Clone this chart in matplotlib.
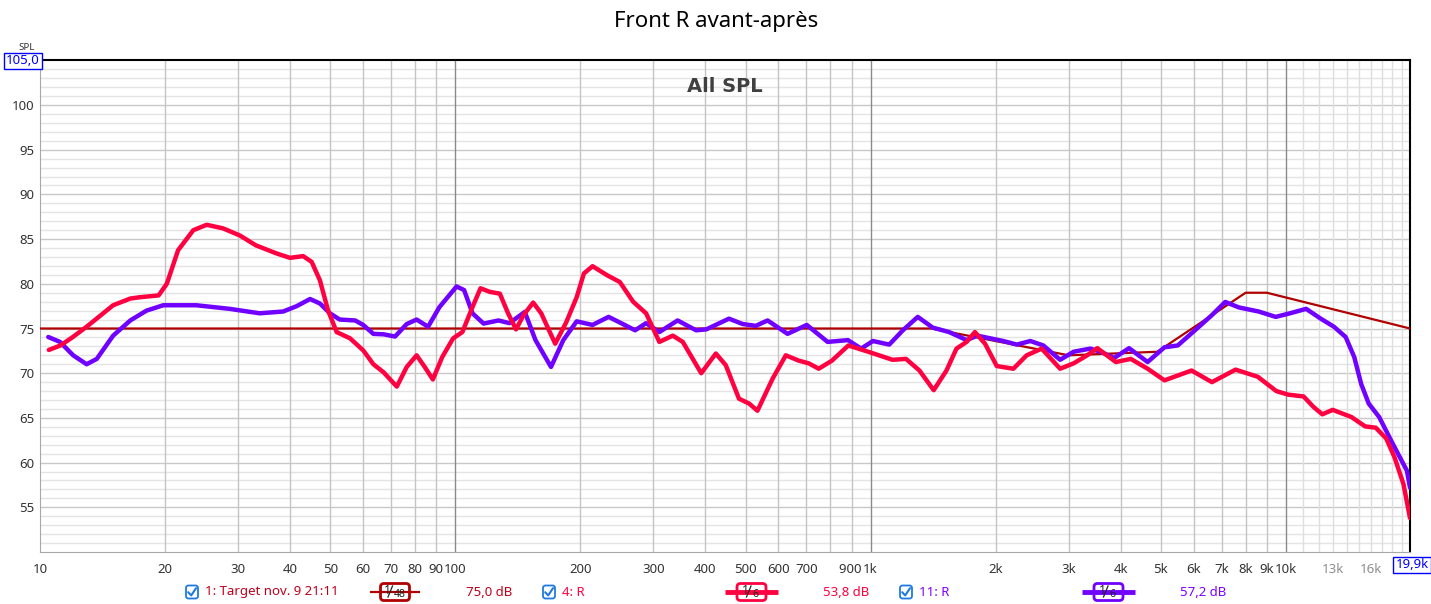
import numpy as np
import matplotlib
matplotlib.use('Agg')
import matplotlib.pyplot as plt
from matplotlib.patches import FancyBboxPatch

plt.rcParams['font.family'] = ['Noto Sans', 'DejaVu Sans']

# Target curve (breakpoints)
target_freq = [10, 1400, 3000, 4900, 8000, 9000, 19900]
target_db = [75.0, 75.0, 72.0, 72.4, 79.0, 79.0, 75.0]

# 4: R (red)
red_freq = [10.5, 11.2, 12.0, 12.95, 15.0, 16.5, 17.4, 19.3, 20.2, 21.5, 23.4, 25.2, 27.6,
            30.3, 33.1, 37.1, 40.0, 43.0, 45.1, 47.2, 49.4, 51.8, 55.8, 60.0, 63.5, 67.2,
            72.3, 76.4, 80.7, 84.4, 88.3, 93.0, 98.8, 104, 110, 115, 121, 128, 134, 140,
            146, 154, 161, 174, 185, 196, 204, 214, 232, 249, 268, 288, 310, 334, 353,
            391, 424, 448, 482, 510, 534, 581, 625, 672, 710, 750, 807, 884, 987, 1129,
            1217, 1311, 1419, 1523, 1610, 1703, 1783, 1886, 2013, 2207, 2376, 2582, 2860,
            3082, 3322, 3515, 3894, 4231, 4646, 5101, 5927, 6636, 7565, 8557, 9483, 10130,
            11030, 11670, 12240, 12960, 14380, 15520, 16460, 17440, 18260, 19190, 19900]
red_db = [72.6, 73.1, 74.05, 75.2, 77.6, 78.35, 78.5, 78.7, 80.0, 83.75, 86.0, 86.6, 86.2,
          85.4, 84.3, 83.4, 82.9, 83.1, 82.45, 80.4, 77.0, 74.6, 73.9, 72.56, 71.0, 70.1,
          68.5, 70.7, 72.0, 70.7, 69.3, 71.8, 73.9, 74.6, 77.4, 79.5, 79.1, 78.9, 76.7, 74.9,
          76.5, 77.9, 76.7, 73.3, 75.7, 78.5, 81.15, 81.97, 80.96, 80.2, 78.0, 76.7, 73.5, 74.2, 73.5,
          70.0, 72.2, 70.9, 67.15, 66.6, 65.8, 69.4, 72.0, 71.4, 71.1, 70.5, 71.4, 73.1, 72.4, 71.5,
          71.6, 70.3, 68.1, 70.3, 72.75, 73.5, 74.6, 73.3, 70.8, 70.5, 72.0, 72.75, 70.5,
          71.1, 72.0, 72.8, 71.25, 71.6, 70.5, 69.2, 70.3, 69.0, 70.4, 69.6, 68.0, 67.6,
          67.4, 66.2, 65.4, 65.9, 65.1, 64.05, 63.9, 62.7, 60.6, 57.6, 53.8]

# 11: R (purple)
purple_freq = [10.47, 11.17, 12.02, 12.95, 13.7, 15.0, 16.5, 18.05, 19.8, 23.8, 28.6, 33.8,
               38.5, 41.5, 44.7, 47.2, 49.9, 52.7, 57.4, 60.0, 63.5, 67.2, 71.6, 76.4, 80.7,
               86, 91.6, 100.7, 105, 110, 117, 127, 135, 147, 156, 170, 182, 196, 214, 234,
               252, 271, 288, 310, 343, 380, 402, 456, 492, 529, 565, 631, 702, 788, 882, 949,
               1013, 1109, 1196, 1299, 1411, 1546, 1703, 1807, 2087, 2250, 2425, 2606, 2860,
               3082, 3381, 3575, 3859, 4191, 4646, 5101, 5490, 6040, 6636, 7145, 7715, 8600,
               9450, 10230, 11190, 12130, 13050, 13930, 14610, 15180, 15830, 16770, 18090,
               19560, 19900]
purple_db = [74.05, 73.5, 72.0, 71.0, 71.6, 74.2, 75.9, 77.0, 77.6, 77.6, 77.2, 76.7,
             76.9, 77.5, 78.3, 77.8, 76.7, 76.0, 75.9, 75.4, 74.4, 74.35, 74.1, 75.5, 76.0,
             75.2, 77.4, 79.7, 79.3, 76.7, 75.55, 75.9, 75.6, 76.85, 73.7, 70.7, 73.7, 75.8, 75.4, 76.3,
             75.55, 74.8, 75.6, 74.6, 75.9, 74.8, 74.9, 76.1, 75.5, 75.3, 75.9, 74.4, 75.4, 73.5, 73.7, 72.75,
             73.6, 73.2, 74.8, 76.3, 75.1, 74.6, 73.7, 74.2, 73.6, 73.2, 73.6, 73.1, 71.5,
             72.4, 72.75, 72.4, 71.7, 72.8, 71.25, 72.9, 73.1, 74.8, 76.5, 77.97, 77.35, 76.9,
             76.3, 76.7, 77.2, 76.1, 75.2, 74.05, 71.8, 68.8, 66.6, 65.1, 62.1,
             59.1, 57.2]

x_ticks = [10, 20, 30, 40, 50, 60, 70, 80, 90, 100, 200, 300, 400, 500, 600, 700, 900, 1000,
           2000, 3000, 4000, 5000, 6000, 7000, 8000, 9000, 10000, 13000, 16000]
x_labels = ['10', '20', '30', '40', '50', '60', '70', '80', '90', '100', '200', '300', '400',
            '500', '600', '700', '900 ', '1k', '2k', '3k', '4k', '5k', '6k', '7k', '8k', '9k',
            '10k', '13k', '16k']

W, H = 1431, 604
fig = plt.figure(figsize=(W / 100, H / 100), dpi=100)
L, R, T, B = 40, 1410, 60.3, 552
ax = fig.add_axes([L / W, 1 - B / H, (R - L) / W, (B - T) / H])
ax.set_xscale('log')
ax.set_xlim(10, 19900)
ax.set_ylim(50, 105)

# grid
for v in range(51, 105):
    ax.axhline(v, color='#c8c8c8' if v % 5 == 0 else '#e4e4e4', lw=1, zorder=0)
for dec in [10, 100, 1000]:
    for m in range(2, 10):
        ax.axvline(dec * m, color='#c4c4c4', lw=1, zorder=0)
for d in [100, 1000, 10000]:
    ax.axvline(d, color='#8a8a8a', lw=1, zorder=0)
for k in range(11, 20):
    ax.axvline(k * 1000, color='#dedede', lw=1, zorder=0)

ax.plot(target_freq, target_db, color='#b00000', lw=1.6, zorder=3)
ax.plot(purple_freq, purple_db, color='#7000ff', lw=3.2, solid_joinstyle='round',
        solid_capstyle='round', zorder=4)
ax.plot(red_freq, red_db, color='#ff0040', lw=3.2, solid_joinstyle='round',
        solid_capstyle='round', zorder=5)

ax.set_yticks(range(55, 101, 5))
ax.set_yticklabels([str(v) for v in range(55, 101, 5)], fontsize=9.5, color='#333333')
ax.set_xticks(x_ticks)
ax.set_xticklabels(x_labels, fontsize=9.5, color='#333333')
for lab, f in zip(ax.get_xticklabels(), x_ticks):
    if f in (13000, 16000):
        lab.set_color('#8c8c8c')
ax.minorticks_off()
ax.tick_params(length=0, pad=8)
ax.tick_params(axis='y', pad=4)
for s in ['left', 'bottom']:
    ax.spines[s].set_color('#a8a8a8')
for s in ['top', 'right']:
    ax.spines[s].set_color('black')
    ax.spines[s].set_linewidth(1.5)

ax.text(0.5, 0.967, 'All SPL', transform=ax.transAxes, ha='center', va='top',
        fontsize=14, fontweight='bold', color='#404040', family=['DejaVu Sans'])

# overlay in pixel coordinates for title, boxes and legend
ov = fig.add_axes([0, 0, 1, 1], facecolor='none')
ov.set_xlim(0, W)
ov.set_ylim(H, 0)
ov.axis('off')

ov.text(716, 22, 'Front R avant-après', ha='center', va='center', fontsize=16, color='black')
ov.text(27, 48, 'SPL', ha='center', va='center', fontsize=7, color='#333333')
ov.text(23, 61, '105,0', ha='center', va='center', fontsize=9.5, color='#0000ff',
        bbox=dict(boxstyle='square,pad=0.15', fc='white', ec='#0000ff', lw=1))
ov.text(1412, 565, '19,9k', ha='center', va='center', fontsize=9.5, color='#0000ff',
        bbox=dict(boxstyle='square,pad=0.15', fc='white', ec='#0000ff', lw=1))

ly = 592


def checkbox(x):
    ov.add_patch(FancyBboxPatch((x - 6, ly - 6.5), 12, 13, boxstyle='round,pad=0,rounding_size=2.5',
                                fc='white', ec='#1f7ae0', lw=1.3))
    ov.plot([x - 3.8, x - 0.8, x + 4], [ly + 0.2, ly + 3.4, ly - 3.8], color='#1f7ae0', lw=1.5,
            solid_capstyle='round', solid_joinstyle='round')


def sample(x0, x1, color, lw, denom):
    ov.plot([x0, x1], [ly, ly], color=color, lw=lw, solid_capstyle='butt')
    cx = (x0 + x1) / 2
    ov.add_patch(FancyBboxPatch((cx - 14.5, ly - 8.5), 29, 17, boxstyle='round,pad=0,rounding_size=3.5',
                                fc='white', ec=color, lw=2))
    off = 2 if len(denom) > 1 else 0
    ov.text(cx - 6 - off, ly - 1.5, '1', ha='center', va='center', fontsize=9, color='#222222')
    ov.plot([cx - 5 - off, cx - 0.5 - off], [ly + 5, ly - 6], color='#222222', lw=0.9)
    ov.text(cx + 0.5 - off, ly + 2.5, denom, ha='left', va='center', fontsize=7.5, color='#222222')


checkbox(192)
ov.text(205, ly, '1: Target nov. 9 21:11', ha='left', va='center', fontsize=9.5, color='#c0001c')
sample(370, 420, '#b00000', 1.6, '48')
ov.text(466, ly, '75,0 dB', ha='left', va='center', fontsize=9.5, color='#c0001c')

checkbox(549)
ov.text(562, ly, '4: R', ha='left', va='center', fontsize=9.5, color='#ff0040')
sample(725, 778, '#ff0040', 3.5, '6')
ov.text(823, ly, '53,8 dB', ha='left', va='center', fontsize=9.5, color='#ff0040')

checkbox(906)
ov.text(919, ly, '11: R', ha='left', va='center', fontsize=9.5, color='#8000ff')
sample(1082, 1135, '#7000ff', 3.5, '6')
ov.text(1180, ly, '57,2 dB', ha='left', va='center', fontsize=9.5, color='#8000ff')

fig.savefig('out.png', dpi=100)
